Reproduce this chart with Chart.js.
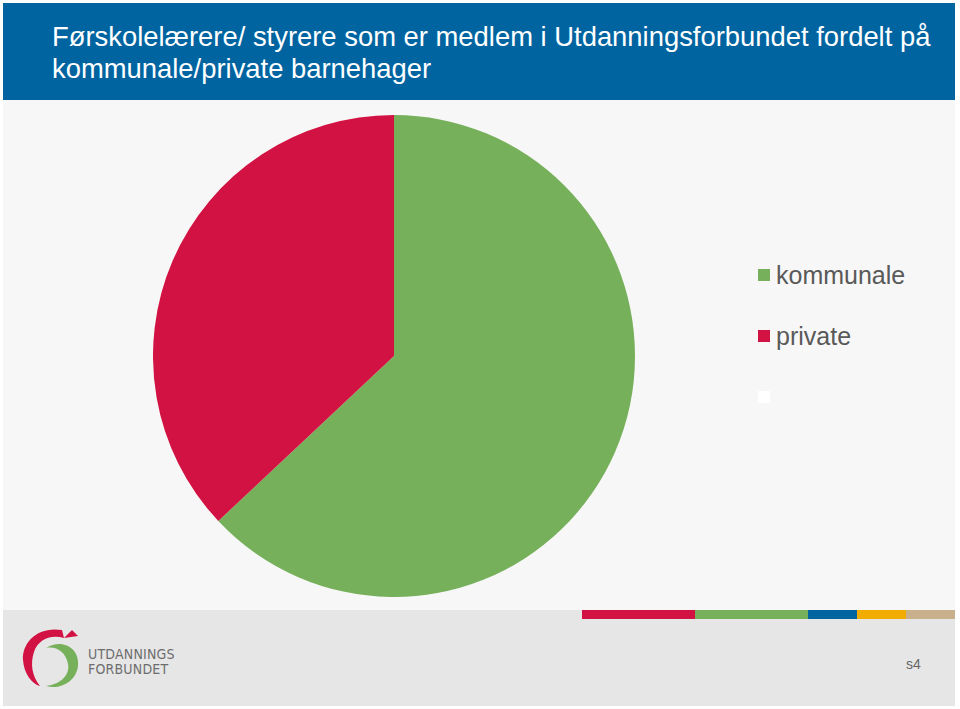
<!DOCTYPE html>
<html>
<head>
<meta charset="utf-8">
<script src="https://cdn.jsdelivr.net/npm/chart.js@4"></script>
<style>
  body { margin: 0; width: 960px; height: 709px; background: #fff; position: relative; overflow: hidden; font-family: "Liberation Sans", Arial, sans-serif; }
  #header { position: absolute; left: 3px; top: 3px; width: 952px; height: 97px; background: #0064a1; }
  #title { position: absolute; left: 49px; top: 18px; color: #fff; font-size: 27.4px; line-height: 32px; }
  #body { position: absolute; left: 3px; top: 100px; width: 952px; height: 510px; background: #f7f7f7; }
  #footer { position: absolute; left: 3px; top: 610px; width: 952px; height: 96px; background: #e6e6e6; }
  #wrap { position: absolute; left: 153px; top: 115px; width: 482px; height: 482px; }
  #legend { position: absolute; left: 758px; top: 263px; }
  .item { height: 61px; font-size: 25px; color: #595959; position: relative; }
  .box { position: absolute; left: 0; top: 6px; width: 12px; height: 12px; }
  .lbl { position: absolute; left: 18px; top: -2px; white-space: nowrap; }
  .bar { position: absolute; top: 610px; height: 9px; }
  #logotext { position: absolute; left: 88px; top: 647px; font-family: "Liberation Sans Narrow", "DejaVu Sans Condensed", sans-serif; color: #6d6d6d; font-size: 14px; line-height: 15px; letter-spacing: 0.2px; }
  #page { position: absolute; left: 906px; top: 656px; font-size: 14px; color: #666; }
</style>
</head>
<body>
<div id="header"><div id="title">Førskolelærere/ styrere som er medlem i Utdanningsforbundet fordelt på<br>kommunale/private barnehager</div></div>
<div id="body"></div>
<div id="footer"></div>
<div class="bar" style="left:582px;width:113px;background:#d11242"></div>
<div class="bar" style="left:695px;width:113px;background:#77b05a"></div>
<div class="bar" style="left:808px;width:49px;background:#0064a1"></div>
<div class="bar" style="left:857px;width:49px;background:#f2ab00"></div>
<div class="bar" style="left:906px;width:49px;background:#c8b08c"></div>
<svg style="position:absolute;left:18px;top:624px" width="66" height="68">
  <path d="M44 6 C20 2 4 18 5 36 C6 50 14 60 22 62 C14 52 12 40 16 28 C20 16 32 10 46 14 Z" fill="#d11242"/>
  <path d="M54 6 L60 12 L46 14 Z" fill="#d11242"/>
  <path d="M28 24 C44 14 62 24 60 42 C58 58 42 66 28 62 C44 60 52 50 50 40 C48 28 38 22 28 24 Z" fill="#77b05a"/>
</svg>
<div id="logotext">UTDANNINGS<br>FORBUNDET</div>
<div id="page">s4</div>
<div id="wrap"><canvas id="pie"></canvas></div>
<div id="legend"></div>
<script>
const labels = ["kommunale", "private", ""];
const values = [63, 37, 0];
const colors = ["#77b05a", "#d11242", "#ffffff"];

new Chart(document.getElementById("pie"), {
  type: "pie",
  data: {
    labels: labels,
    datasets: [{ data: values, backgroundColor: colors, borderWidth: 0 }]
  },
  options: {
    responsive: true,
    maintainAspectRatio: false,
    animation: false,
    layout: { padding: 0 },
    plugins: { legend: { display: false }, tooltip: { enabled: false } }
  }
});

// legend built from the same arrays
const legend = document.getElementById("legend");
for (let i = 0; i < labels.length; i++) {
  const item = document.createElement("div");
  item.className = "item";
  item.innerHTML = '<div class="box" style="background:' + colors[i] + '"></div><div class="lbl">' + labels[i] + '</div>';
  legend.appendChild(item);
}
</script>
</body>
</html>
